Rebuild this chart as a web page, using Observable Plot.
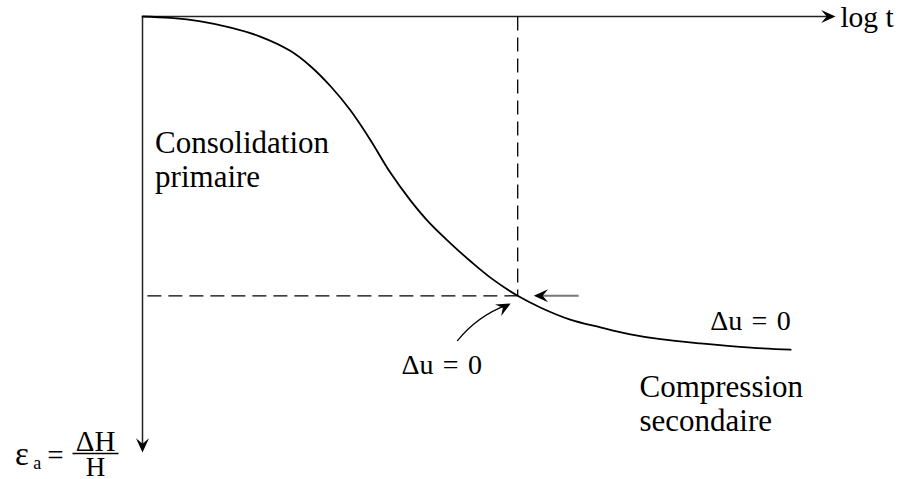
<!DOCTYPE html>
<html>
<head>
<meta charset="utf-8">
<script src="https://cdn.jsdelivr.net/npm/d3@7"></script>
<script src="https://cdn.jsdelivr.net/npm/@observablehq/plot@0.6"></script>
<style>
  html, body { margin: 0; padding: 0; background: #fff; }
  svg text { font-family: "Liberation Serif", "Times New Roman", serif; }
</style>
</head>
<body>
<div id="chart"></div>
<script>
// Settlement curve: axial strain versus log time (arbitrary units)
const logT   = [0, 0.40, 0.83, 1.26, 1.69, 2.11, 2.40, 2.69, 2.97, 3.26, 3.54, 3.83, 4.11, 4.40, 4.69, 4.97, 5.36, 5.69, 6.11, 6.54, 6.97, 7.40, 7.97, 8.69, 9.26];
const strain = [0, 0.02, 0.07, 0.16, 0.29, 0.49, 0.71, 1.00, 1.34, 1.77, 2.23, 2.63, 2.96, 3.24, 3.50, 3.73, 3.99, 4.16, 4.33, 4.44, 4.54, 4.61, 4.67, 4.73, 4.76];

// End of primary consolidation (Δu = 0)
const tEndPrimary = 5.36;
const eEndPrimary = 3.99;

// Axis extents
const tAxisEnd = 9.9;
const eAxisEnd = 6.23;

// Text annotations (three-per-em spaces give the wider math spacing)
const phaseText = ["Consolidation\nprimaire", "Compression\nsecondaire"];
const phaseT    = [0.18, 7.10];
const phaseE    = [2.44, 5.92];
const duText    = ["\u0394u\u2004=\u20040", "\u0394u\u2004=\u20040"];
const duT       = [3.70, 8.11];
const duE       = [5.11, 4.48];
const axisText  = ["log t"];
const axisT     = [9.97];
const axisE     = [0.15];

const curve = logT.map((t, i) => ({t, e: strain[i]}));
const phases = phaseText.map((text, i) => ({text, t: phaseT[i], e: phaseE[i]}));
const duLabels = duText.map((text, i) => ({text, t: duT[i], e: duE[i]}));
const axisLabels = axisText.map((text, i) => ({text, t: axisT[i], e: axisE[i]}));

// Filled arrowhead with its tip at the origin, pointing up
const head = {
  draw(ctx, size) {
    const r = Math.sqrt(size / Math.PI);
    const L = 2.2 * r, w = r;
    ctx.moveTo(0, 0);
    ctx.lineTo(-w, L);
    ctx.lineTo(0, 0.62 * L);
    ctx.lineTo(w, L);
    ctx.closePath();
  }
};

const pointer = {t1: 6.23, e1: eEndPrimary, t2: 5.59, e2: eEndPrimary};
const bent = {t1: 4.50, e1: 4.63, t2: 5.26, e2: 4.10};

const heads = [
  {t: tAxisEnd, e: 0, angle: 90},
  {t: 0, e: eAxisEnd, angle: 180},
  {t: pointer.t2, e: pointer.e2, angle: -90},
  {t: bent.t2, e: bent.e2, angle: 62}
];

const font = "Liberation Serif";

const chart = Plot.plot({
  width: 904,
  height: 479,
  marginLeft: 142,
  marginRight: 62,
  marginTop: 16,
  marginBottom: 43,
  x: {domain: [0, 10], axis: null},
  y: {domain: [0, 6], reverse: true, axis: null},
  style: {background: "#fff", overflow: "visible"},
  marks: [
    // axes
    Plot.link([{}], {x1: 0, y1: 0, x2: tAxisEnd - 0.1, y2: 0, stroke: "#222", strokeWidth: 1.5}),
    Plot.link([{}], {x1: 0, y1: 0, x2: 0, y2: eAxisEnd - 0.1, stroke: "#222", strokeWidth: 1.5}),
    // guides at the end of primary consolidation
    Plot.link([{}], {x1: tEndPrimary, y1: 0, x2: tEndPrimary, y2: eEndPrimary, stroke: "#000", strokeWidth: 1.3, strokeDasharray: "14,7"}),
    Plot.link([{}], {x1: 0.07, y1: eEndPrimary, x2: tEndPrimary, y2: eEndPrimary, stroke: "#000", strokeWidth: 1.3, strokeDasharray: "14,7"}),
    // settlement curve
    Plot.line(curve, {x: "t", y: "e", curve: "catmull-rom", stroke: "#000", strokeWidth: 1.8}),
    // pointers
    Plot.link([pointer], {x1: "t1", y1: "e1", x2: d => d.t2 + 0.1, y2: "e2", stroke: "#777", strokeWidth: 2}),
    Plot.arrow([bent], {x1: "t1", y1: "e1", x2: "t2", y2: "e2", bend: 16, headLength: 0, stroke: "#000", strokeWidth: 1.3, insetEnd: 4}),
    Plot.dot(heads, {x: "t", y: "e", r: 6.5, symbol: head, rotate: "angle", fill: "#000", stroke: "none"}),
    // labels
    Plot.text(phases, {x: "t", y: "e", text: "text", textAnchor: "start", lineAnchor: "bottom", lineHeight: 1.1, fontSize: 31, fontFamily: font, fill: "#000"}),
    Plot.text(duLabels, {x: "t", y: "e", text: "text", textAnchor: "start", lineAnchor: "bottom", fontSize: 28, fontFamily: font, fill: "#000"}),
    Plot.text(axisLabels, {x: "t", y: "e", text: "text", textAnchor: "start", lineAnchor: "bottom", fontSize: 29.5, fontFamily: font, fill: "#000"}),
    // ε_a = ΔH / H
    Plot.text([{}], {x: -1.82, y: 6.41, text: ["\u03b5"], textAnchor: "start", lineAnchor: "bottom", fontSize: 33, fontFamily: font, fill: "#000"}),
    Plot.text([{}], {x: -1.56, y: 6.47, text: ["a"], textAnchor: "start", lineAnchor: "bottom", fontSize: 18, fontFamily: font, fill: "#000"}),
    Plot.text([{}], {x: -1.36, y: 6.41, text: ["="], textAnchor: "start", lineAnchor: "bottom", fontSize: 29, fontFamily: font, fill: "#000"}),
    Plot.text([{}], {x: -0.67, y: 6.2, text: ["\u0394H"], textAnchor: "middle", lineAnchor: "bottom", fontSize: 29, fontFamily: font, fill: "#000"}),
    Plot.link([{}], {x1: -1.0, y1: 6.243, x2: -0.343, y2: 6.243, stroke: "#000", strokeWidth: 1.4}),
    Plot.text([{}], {x: -0.67, y: 6.56, text: ["H"], textAnchor: "middle", lineAnchor: "bottom", fontSize: 27, fontFamily: font, fill: "#000"})
  ]
});

document.getElementById("chart").appendChild(chart);
</script>
</body>
</html>
